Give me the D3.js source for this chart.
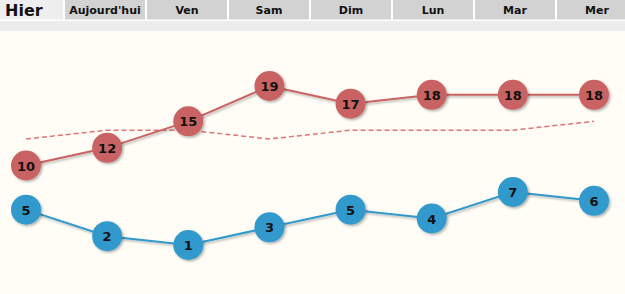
<!DOCTYPE html>
<html>
<head>
<meta charset="utf-8">
<script src="https://cdn.jsdelivr.net/npm/d3@7"></script>
<style>
  body { margin: 0; background: #ffffff; }
  #meteo_chart svg { display: block; }
</style>
</head>
<body>
<div id="meteo_chart"></div>
<script>
// Day tabs and daily temperatures (max, min, normal)
var days = ['Hier', "Aujourd'hui", 'Ven', 'Sam', 'Dim', 'Lun', 'Mar', 'Mer'];
var maxTemps = [10, 12, 15, 19, 17, 18, 18, 18];
var minTemps = [5, 2, 1, 3, 5, 4, 7, 6];
var normalTemps = [13, 14, 14, 13, 14, 14, 14, 15];

var outerWidth = 625;
var outerHeight = 294;
var tabHeight = 19.5;
var radius = 15;

var svg = d3.select('#meteo_chart').append('svg')
  .attr('width', outerWidth)
  .attr('height', outerHeight);

// Shadow under circles and lines
var defs = svg.append('defs');
defs.append('filter')
    .attr('id', 'shadow')
    .attr('x', '-30%').attr('y', '-30%')
    .attr('width', '160%').attr('height', '160%')
  .append('feDropShadow')
    .attr('dx', 1.5).attr('dy', 1.5)
    .attr('stdDeviation', 1)
    .attr('flood-color', '#000')
    .attr('flood-opacity', 0.3);

// Backgrounds: chart area and the thin stripe under the tabs
svg.append('rect')
  .attr('x', 0).attr('y', 31)
  .attr('width', outerWidth).attr('height', outerHeight - 31)
  .attr('fill', '#fffdf6');
svg.append('rect')
  .attr('x', 0).attr('y', 21)
  .attr('width', outerWidth).attr('height', 10)
  .attr('fill', '#ececec');

// Tabs
var tab = svg.selectAll('.tab')
  .data(days)
  .enter().append('g')
    .attr('class', 'tab');

function tabX(i) { return i === 0 ? 0 : 65 + (i - 1) * 82; }
function tabW(i) { return i === 0 ? 63 : 80; }

tab.append('rect')
  .attr('x', function(d, i) { return tabX(i); })
  .attr('y', 0)
  .attr('width', function(d, i) { return tabW(i); })
  .attr('height', tabHeight)
  .attr('fill', function(d, i) { return i === 0 ? '#eeeeee' : '#d2d2d2'; });

tab.append('text')
  .attr('x', function(d, i) { return i === 0 ? 5 : tabX(i) + tabW(i) / 2; })
  .attr('y', function(d, i) { return i === 0 ? 16 : 14; })
  .attr('text-anchor', function(d, i) { return i === 0 ? 'start' : 'middle'; })
  .style('font-family', 'DejaVu Sans, Verdana, sans-serif')
  .style('font-weight', 'bold')
  .style('font-size', function(d, i) { return i === 0 ? '16px' : '11px'; })
  .attr('fill', '#111')
  .text(function(d) { return d; });

// Scales
var x = d3.scalePoint().domain(days).range([26, 594]);
var y = d3.scaleLinear().domain([1, 19]).range([245, 86]);

var line = d3.line()
  .x(function(d) { return x(d.day); })
  .y(function(d) { return y(d.t); });

function series(vals) {
  return vals.map(function(t, i) { return {day: days[i], t: t}; });
}

// Normal temperatures (dashed)
svg.append('path')
  .attr('d', line(series(normalTemps)))
  .attr('fill', 'none')
  .attr('stroke', '#de7474')
  .attr('stroke-width', 1.5)
  .attr('stroke-dasharray', '5,3');

var groups = [
  {vals: maxTemps, color: '#c96464'},
  {vals: minTemps, color: '#3399cc'}
];

groups.forEach(function(s) {
  var pts = series(s.vals);
  var g = svg.append('g');

  g.append('path')
    .attr('d', line(pts))
    .attr('fill', 'none')
    .attr('stroke', s.color)
    .attr('stroke-width', 2)
    .attr('filter', 'url(#shadow)');

  g.selectAll('circle')
    .data(pts)
    .enter().append('circle')
      .attr('cx', function(d) { return x(d.day); })
      .attr('cy', function(d) { return y(d.t); })
      .attr('r', radius)
      .attr('fill', s.color)
      .attr('filter', 'url(#shadow)');

  g.selectAll('text')
    .data(pts)
    .enter().append('text')
      .attr('x', function(d) { return x(d.day); })
      .attr('y', function(d) { return y(d.t) + 5; })
      .attr('text-anchor', 'middle')
      .style('font-family', 'DejaVu Sans, Verdana, sans-serif')
      .style('font-weight', 'bold')
      .style('font-size', '13px')
      .attr('fill', '#111')
      .text(function(d) { return d.t; });
});
</script>
</body>
</html>
